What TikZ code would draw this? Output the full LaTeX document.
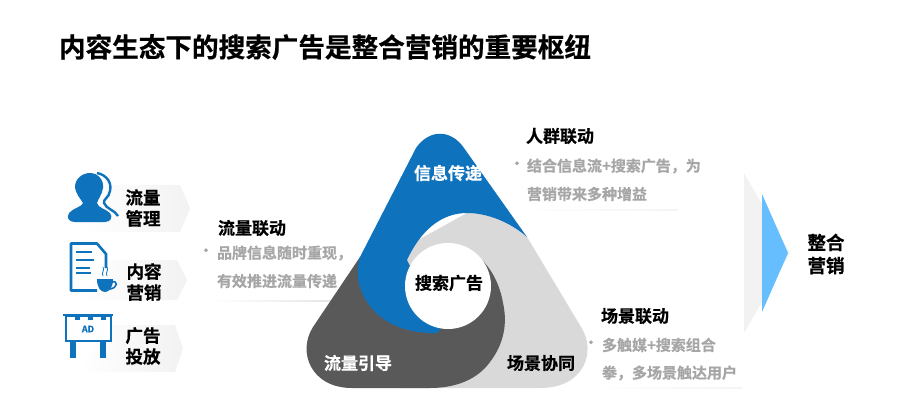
\documentclass[tikz,border=0pt]{standalone}
\usepackage{fontspec}
\setmainfont{Noto Sans CJK SC}[BoldFont={Noto Sans CJK SC Bold},BoldFeatures={FakeBold=0.6}]
\definecolor{iconblue}{HTML}{0E72BC}
\definecolor{triblue}{HTML}{0E72BC}
\definecolor{tridark}{HTML}{595959}
\definecolor{trilight}{HTML}{D9D9D9}
\definecolor{bodygray}{HTML}{A6A6A6}
\definecolor{chev}{HTML}{F2F2F2}
\definecolor{rulegray}{HTML}{E4E4E4}
\definecolor{arrowblue}{HTML}{66BEFF}
\tikzset{
  every node/.style={inner sep=0pt,outer sep=0pt},
  titletxt/.style={font=\fontsize{26.6}{30}\selectfont\bfseries,anchor=west},
  headtxt/.style={font=\fontsize{17}{20}\selectfont\bfseries,anchor=west},
  bodytxt/.style={font=\fontsize{15}{17}\selectfont\bfseries,text=bodygray,anchor=west},
  stacktxt/.style={font=\fontsize{17.5}{21}\selectfont\bfseries,align=center},
  bigstack/.style={font=\fontsize{18.5}{23}\selectfont\bfseries,align=center},
  tritxt/.style={font=\fontsize{17}{20}\selectfont\bfseries},
  dottxt/.style={font=\bfseries\fontsize{14}{14}\selectfont,text=bodygray},
  chevron/.style={left color=white,right color=chev,draw=none},
  rulefade/.style={left color=white,middle color=rulegray,right color=rulegray!40,draw=none},
  icl/.style={draw=iconblue,line width=2.6pt}
}
\begin{document}
\begin{tikzpicture}[x=1pt,y=-1pt]
\useasboundingbox (0,0) rectangle (908,400);
\fill[white] (0,0) rectangle (908,400);
\node[titletxt] (title) at (59,47) {内容生态下的搜索广告是整合营销的重要枢纽};

% chevrons
\shade[chevron] (107,185) -- (180,185) -- (190,208) -- (180,232) -- (83,232) -- (100,208) -- cycle;
\shade[chevron] (105,260) -- (177,260) -- (187,280) -- (177,300) -- (80,300) -- (97,280) -- cycle;
\shade[chevron] (100,325) -- (175,325) -- (183,348) -- (175,372) -- (78,372) -- (95,348) -- cycle;

% person icon
\draw[iconblue,line width=2.4pt] (97,173) .. controls (107,175) and (112,183) .. (110,191) .. controls (109,198) and (103,199) .. (104,203) .. controls (106,209) and (115,210) .. (118,216);
\fill[iconblue] (90,173) .. controls (98,173) and (104,180) .. (103,188) .. controls (102,195) and (98,199) .. (97,203) .. controls (98,208) and (106,209) .. (110,213) .. controls (113,217) and (111,222) .. (105,222) -- (75,222) .. controls (69,222) and (66,218) .. (69,213) .. controls (73,208) and (82,207) .. (83,203) .. controls (81,199) and (76,195) .. (75,187) .. controls (75,179) and (82,173) .. (90,173) -- cycle;

% document icon
\draw[icl,line join=round] (97,290.5) -- (71,290.5) -- (71,243.5) -- (97,243.5) -- (106,254) -- (106,268);
\draw[iconblue,line width=2.6pt] (76,252) -- (92,252) (76,260) -- (94,260) (76,268) -- (90,268) (76,273) -- (91,273);
\fill[iconblue] (97,279) -- (113,279) .. controls (113,288) and (109,292) .. (105,292) .. controls (101,292) and (97,288) .. (97,279) -- cycle;
\draw[iconblue,line width=1.6pt] (112,282) .. controls (118,280) and (118,288) .. (110,289);
\draw[iconblue,line width=.8pt] (103,276) .. controls (101,272) and (105,271) .. (103,267) (107,276) .. controls (105,272) and (109,271) .. (107,267);

% billboard icon
\draw[iconblue,line width=2pt] (63,315) -- (113,315);
\draw[iconblue,line width=2pt,fill=white] (66,316) rectangle (111,341);
\foreach \xx in {75,88,101}{\fill[iconblue] (\xx,316) rectangle (\xx+5,320);}
\fill[iconblue] (70,341) rectangle (76,358);
\fill[iconblue] (100,341) rectangle (106,358);
\node[font=\fontsize{9}{10}\selectfont\bfseries,text=iconblue] (ad) at (88,329) {AD};

\node[stacktxt] (a) at (143,208) {流量\\管理};
\node[stacktxt] (b) at (144,282) {内容\\营销};
\node[stacktxt] (c) at (143,346) {广告\\投放};

% rules under the text blocks
\shade[rulefade] (516,209.5) rectangle (678,210.5);
\shade[left color=white,middle color=rulegray,right color=rulegray] (210,300.5) rectangle (338,301.5);
\shade[rulefade] (590,387.5) rectangle (742,388.5);

% triangle: light base
\fill[trilight] (467,213) .. controls (487,213) and (510,222) .. (527,237) -- (581,327) .. controls (597,352) and (584,388) .. (540,388) -- (400,388) -- (400,250) -- cycle;
% dark region
\fill[tridark] (360,257) -- (313,327) .. controls (297,352) and (311,388) .. (352,388) -- (430,388) .. controls (455,388) and (477,380) .. (490,362) .. controls (503,345) and (508,325) .. (503,303) .. controls (500,285) and (492,270) .. (482,260) -- (440,270) -- cycle;
% blue region
\fill[triblue] (416,148) .. controls (429,129) and (451,129) .. (464,148) -- (527,237) .. controls (510,222) and (487,213) .. (467,213) .. controls (440,213) and (420,232) .. (407,260) -- (440,330) -- (437,333) .. controls (405,334) and (380,322) .. (367,302) .. controls (358,288) and (355,272) .. (360,257) -- cycle;
\node[circle,fill=white,minimum size=86pt] (hub) at (448,286) {};
\node[tritxt] (search) at (449,283) {搜索广告};
\node[tritxt,text=white] (info) at (448,173) {信息传递};
\node[tritxt,text=white] (flow) at (358,363) {流量引导};
\node[tritxt] (scene) at (541,363) {场景协同};

% right-top block
\node[headtxt] (h1) at (526,136) {人群联动};
\node[dottxt] (d1) at (517,165) {·};
\node[bodytxt] (t1a) at (527,166) {结合信息流+搜索广告，为};
\node[bodytxt] (t1b) at (527,194) {营销带来多种增益};

% left block
\node[headtxt] (h2) at (218,228) {流量联动};
\node[dottxt] (d2) at (206,252) {·};
\node[bodytxt] (t2a) at (217,253) {品牌信息随时重现，};
\node[bodytxt] (t2b) at (217,281) {有效推进流量传递};

% bottom-right block
\node[headtxt] (h3) at (601,316) {场景联动};
\node[dottxt] (d3) at (591,344) {·};
\node[bodytxt] (t3a) at (602,345) {多触媒+搜索组合};
\node[bodytxt] (t3b) at (602,373) {拳，多场景触达用户};

% arrow
\fill[chev] (744,173) -- (790,253) -- (744,333) -- cycle;
\fill[white] (762.5,190) -- (795,253) -- (762.5,316) -- (800,316) -- (800,190) -- cycle;
\fill[arrowblue] (762,194) -- (788,253) -- (762,312) -- cycle;
\node[bigstack] (int) at (826,254) {整合\\营销};
\end{tikzpicture}
\end{document}
